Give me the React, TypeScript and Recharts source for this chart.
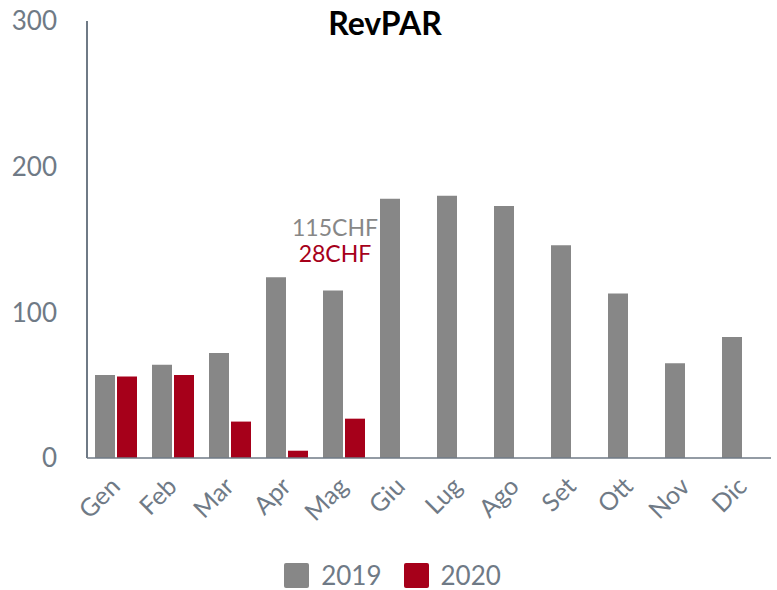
import React from 'react';
import {
  BarChart,
  Bar,
  XAxis,
  YAxis,
  Legend,
  LabelList,
} from 'recharts';

const months = ['Gen', 'Feb', 'Mar', 'Apr', 'Mag', 'Giu', 'Lug', 'Ago', 'Set', 'Ott', 'Nov', 'Dic'];
const revpar2019 = [57, 64, 72, 124, 115, 178, 180, 173, 146, 113, 65, 83];
const revpar2020: (number | null)[] = [56, 57, 25, 5, 27, null, null, null, null, null, null, null];
const yTicks = [0, 100, 200, 300];
const noteMonth = 'Mag';
const note2019 = '115CHF';
const note2020 = '28CHF';

const GRAY = '#878787';
const RED = '#a6001a';
const AXIS = '#6f7a86';
const FONT = 'Lato, "Open Sans", sans-serif';

const data = months.map((m, i) => ({ month: m, y2019: revpar2019[i], y2020: revpar2020[i] }));

function MonthTick({ x, y, payload }: { x?: number; y?: number; payload?: { value: string } }) {
  return (
    <g transform={`translate(${(x ?? 0) + 6},${(y ?? 0) + 22})`}>
      <text
        x={0}
        y={0}
        textAnchor="end"
        transform="rotate(-45)"
        fill={AXIS}
        fontSize={25}
        fontFamily={FONT}
      >
        {payload?.value}
      </text>
    </g>
  );
}

function NoteLabel(props: any) {
  const { x, y, width, index } = props;
  if (months[index] !== noteMonth) return null;
  const cx = x + width / 2 + 2;
  return (
    <g fontFamily={FONT} fontSize={23} textAnchor="middle">
      <text x={cx} y={y - 54} fill={GRAY}>{note2019}</text>
      <text x={cx} y={y - 28} fill={RED}>{note2020}</text>
    </g>
  );
}

function LegendContent() {
  const items = [
    { label: '2019', color: GRAY },
    { label: '2020', color: RED },
  ];
  return (
    <div
      style={{
        display: 'flex',
        justifyContent: 'center',
        gap: 22,
        fontFamily: FONT,
        paddingLeft: 14,
        paddingTop: 22,
        lineHeight: '26px',
      }}
    >
      {items.map((it) => (
        <div key={it.label} style={{ display: 'flex', alignItems: 'center', gap: 12 }}>
          <span style={{ width: 25, height: 25, background: it.color, borderRadius: 2, display: 'inline-block' }} />
          <span style={{ fontSize: 26, color: AXIS }}>{it.label}</span>
        </div>
      ))}
    </div>
  );
}

export default function App() {
  return (
    <div style={{ position: 'relative', width: 777, height: 590, background: '#fff' }}>
      <style>{'body{margin:0}'}</style>
      <div
        style={{
          position: 'absolute',
          top: 3,
          left: 0,
          width: 770,
          textAlign: 'center',
          fontFamily: FONT,
          fontWeight: 700,
          fontSize: 32,
          color: '#000',
          zIndex: 1,
        }}
      >
        RevPAR
      </div>
      <BarChart
        width={777}
        height={590}
        data={data}
        margin={{ top: 21, right: 6, left: 0, bottom: 0 }}
        barGap={2}
        barSize={20}
      >
        <XAxis
          dataKey="month"
          tick={<MonthTick />}
          tickLine={false}
          axisLine={{ stroke: AXIS, strokeWidth: 1.5 }}
          height={82}
          interval={0}
        />
        <YAxis
          domain={[0, 300]}
          ticks={yTicks}
          width={87}
          tickLine={false}
          tickSize={0}
          tickMargin={30}
          axisLine={{ stroke: AXIS, strokeWidth: 2 }}
          tick={{ fill: AXIS, fontSize: 26, fontFamily: FONT }}
        />
        <Legend verticalAlign="bottom" content={<LegendContent />} wrapperStyle={{ height: 50 }} />
        <Bar dataKey="y2019" name="2019" fill={GRAY} isAnimationActive={false}>
          <LabelList dataKey="y2019" content={<NoteLabel />} />
        </Bar>
        <Bar dataKey="y2020" name="2020" fill={RED} isAnimationActive={false} />
      </BarChart>
    </div>
  );
}
